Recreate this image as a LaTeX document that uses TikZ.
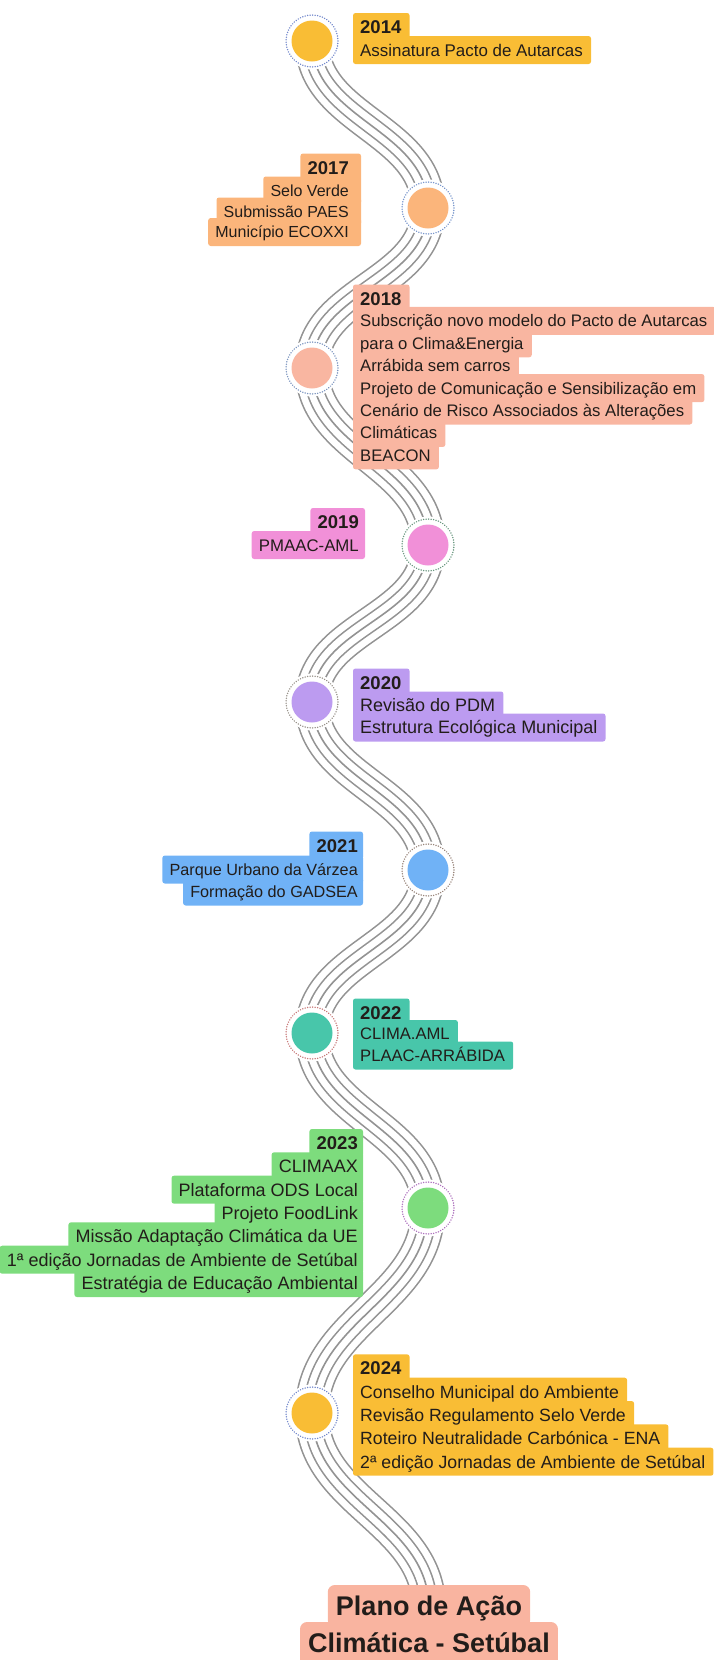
\documentclass[tikz,border=0pt]{standalone}
\usepackage{fontspec}
\setmainfont{Liberation Sans}
\usetikzlibrary{calc}
\pgfdeclarelayer{snake}
\pgfdeclarelayer{fills}
\pgfsetlayers{snake,fills,main}

\definecolor{ink}{HTML}{221D1A}
\definecolor{lc}{HTML}{939393}
\definecolor{c14}{HTML}{F9BD35}
\definecolor{c17}{HTML}{FBB57B}
\definecolor{c18}{HTML}{F9B6A1}
\definecolor{c19}{HTML}{F190D8}
\definecolor{c20}{HTML}{BC9BF0}
\definecolor{c21}{HTML}{70B2F6}
\definecolor{c22}{HTML}{48C6AA}
\definecolor{c23}{HTML}{7DDC7D}
\definecolor{ctitle}{HTML}{F9B4A0}
\definecolor{r14}{HTML}{7388CC}
\definecolor{r17}{HTML}{7896CC}
\definecolor{r18}{HTML}{7C95C0}
\definecolor{r19}{HTML}{6A9880}
\definecolor{r20}{HTML}{98928A}
\definecolor{r21}{HTML}{98857A}
\definecolor{r22}{HTML}{C87878}
\definecolor{r23}{HTML}{AE70BE}

\tikzset{
  ringdots/.style={line width=1.6pt, dash pattern=on 0.01pt off 2.5pt, line cap=round},
  labtext/.style={inner sep=0pt, text=ink},
  snk/.style={line join=round},
}

% right-side label line: name, colour, x(left of text), y centre, font size, text
\newcommand\RL[6]{%
  \node[labtext, anchor=base west, font=\fontsize{#5pt}{#5pt}\selectfont] (#1) at (#3,{#4+0.358*#5}) {#6};
  \begin{pgfonlayer}{fills}
    \fill[#2, rounded corners=2.5pt] let \p1=(#1.base west), \p2=(#1.base east) in
      (\x1-7pt,{-(#4-14)*1pt}) rectangle (\x2+8pt,{-(#4+14)*1pt});
  \end{pgfonlayer}}
% left-side label line: name, colour, x(right of text), y centre, font size, text
\def\lpad{5pt}
\newcommand\LL[6]{%
  \node[labtext, anchor=base east, font=\fontsize{#5pt}{#5pt}\selectfont] (#1) at (#3,{#4+0.358*#5}) {#6};
  \begin{pgfonlayer}{fills}
    \fill[#2, rounded corners=2.5pt] let \p1=(#1.base west), \p2=(#1.base east) in
      (\x1-7pt,{-(#4-14)*1pt}) rectangle (\x2+\lpad,{-(#4+14)*1pt});
  \end{pgfonlayer}}
% milestone circle: name, x, y, fill colour, ring colour
\newcommand\milestone[5]{%
  \node[circle, fill=white, inner sep=0pt, minimum size=57pt] (#1) at (#2,#3) {};
  \draw[#5, ringdots] (#1.center) circle[radius=26pt];
  \fill[#4] (#1.center) circle[radius=20.5pt];}

\begin{document}
\begin{tikzpicture}[x=1pt,y=-1pt]
\useasboundingbox (0,0) rectangle (714,1660);

% circles
\milestone{m14}{312}{41}{c14}{r14}
\milestone{m17}{428}{208}{c17}{r17}
\milestone{m18}{312}{368}{c18}{r18}
\milestone{m19}{428}{545}{c19}{r19}
\milestone{m20}{312}{702}{c20}{r20}
\milestone{m21}{428}{870}{c21}{r21}
\milestone{m22}{312}{1033}{c22}{r22}
\milestone{m23}{428}{1208}{c23}{r23}
\milestone{m24}{312}{1413}{c14}{r14}

% 2014
\RL{a1}{c14}{360}{27}{18.5}{\bfseries 2014}
\RL{a2}{c14}{360}{50}{16.9}{Assinatura Pacto de Autarcas}

% 2017
\def\lpad{12pt}
\LL{b1}{c17}{349}{167.5}{18.5}{\bfseries 2017}
\LL{b2}{c17}{349}{190.5}{16}{Selo Verde}
\LL{b3}{c17}{349}{211.5}{16}{Submissão PAES}
\LL{b4}{c17}{349}{232}{16}{Município ECOXXI}

% 2018
\RL{d1}{c18}{360}{298.5}{18.5}{\bfseries 2018}
\RL{d2}{c18}{360}{320.9}{16.7}{Subscrição novo modelo do Pacto de Autarcas}
\RL{d3}{c18}{360}{343.3}{16.7}{para o Clima\&Energia}
\RL{d4}{c18}{360}{365.7}{16.7}{Arrábida sem carros}
\RL{d5}{c18}{360}{388.1}{16.7}{Projeto de Comunicação e Sensibilização em}
\RL{d6}{c18}{360}{410.5}{16.7}{Cenário de Risco Associados às Alterações}
\RL{d7}{c18}{360}{432.9}{16.7}{Climáticas}
\RL{d8}{c18}{360}{455.3}{16.7}{BEACON}

% 2019
\def\lpad{6pt}
\LL{e1}{c19}{359}{522}{18.5}{\bfseries 2019}
\LL{e2}{c19}{359}{545}{16.8}{PMAAC-AML}

% 2020
\RL{f1}{c20}{360}{682.5}{18.5}{\bfseries 2020}
\RL{f2}{c20}{360}{705.5}{18}{Revisão do PDM}
\RL{f3}{c20}{360}{727.5}{18}{Estrutura Ecológica Municipal}

% 2021
\def\lpad{5pt}
\LL{g1}{c21}{358}{845.5}{18.5}{\bfseries 2021}
\LL{g2}{c21}{358}{869.5}{16.2}{Parque Urbano da Várzea}
\LL{g3}{c21}{358}{891.5}{16.2}{Formação do GADSEA}

% 2022
\RL{h1}{c22}{360}{1012.5}{18.5}{\bfseries 2022}
\RL{h2}{c22}{360}{1034}{16.6}{CLIMA.AML}
\RL{h3}{c22}{360}{1055.5}{16.6}{PLAAC-ARRÁBIDA}

% 2023
\LL{k1}{c23}{358}{1143}{18.5}{\bfseries 2023}
\LL{k2}{c23}{358}{1166.3}{18}{CLIMAAX}
\LL{k3}{c23}{358}{1189.7}{18}{Plataforma ODS Local}
\LL{k4}{c23}{358}{1213}{18}{Projeto FoodLink}
\LL{k5}{c23}{358}{1236.3}{18}{Missão Adaptação Climática da UE}
\LL{k6}{c23}{358}{1259.7}{18}{1ª edição Jornadas de Ambiente de Setúbal}
\LL{k7}{c23}{358}{1283}{18}{Estratégia de Educação Ambiental}

% 2024
\RL{n1}{c14}{360}{1368.3}{18.5}{\bfseries 2024}
\RL{n2}{c14}{360}{1391.7}{17.7}{Conselho Municipal do Ambiente}
\RL{n3}{c14}{360}{1415}{17.7}{Revisão Regulamento Selo Verde}
\RL{n4}{c14}{360}{1438.4}{17.7}{Roteiro Neutralidade Carbónica - ENA}
\RL{n5}{c14}{360}{1461.7}{17.7}{2ª edição Jornadas de Ambiente de Setúbal}

% title
\node[labtext, anchor=base, font=\fontsize{27pt}{27pt}\selectfont\bfseries] (t1) at (429,{1606+0.358*27}) {Plano de Ação};
\node[labtext, anchor=base, font=\fontsize{27pt}{27pt}\selectfont\bfseries] (t2) at (429,{1643+0.358*27}) {Climática - Setúbal};
\begin{pgfonlayer}{fills}
  \fill[ctitle, rounded corners=7pt] let \p1=(t1.base west), \p2=(t1.base east) in
    (\x1-8pt,{-1585pt}) rectangle (\x2+8pt,{-1627pt});
  \fill[ctitle, rounded corners=7pt] let \p1=(t2.base west), \p2=(t2.base east) in
    (\x1-8pt,{-1622pt}) rectangle (\x2+8pt,{-1668pt});
\end{pgfonlayer}

% snake of five parallel lines
\def\snake{(m14.center) to[out=-90,in=90] (m17.center) to[out=-90,in=90] (m18.center)
  to[out=-90,in=90] (m19.center) to[out=-90,in=90] (m20.center) to[out=-90,in=90] (m21.center)
  to[out=-90,in=90] (m22.center) to[out=-90,in=90] (m23.center) to[out=-90,in=90] (m24.center)
  to[out=-90,in=90] (t1.center)}
\begin{pgfonlayer}{snake}
  \draw[snk, lc, line width=34.8pt] \snake;
  \draw[snk, white, line width=31.6pt] \snake;
  \draw[snk, lc, line width=18.2pt] \snake;
  \draw[snk, white, line width=15pt] \snake;
  \draw[snk, lc, line width=1.6pt] \snake;
\end{pgfonlayer}
\end{tikzpicture}
\end{document}
